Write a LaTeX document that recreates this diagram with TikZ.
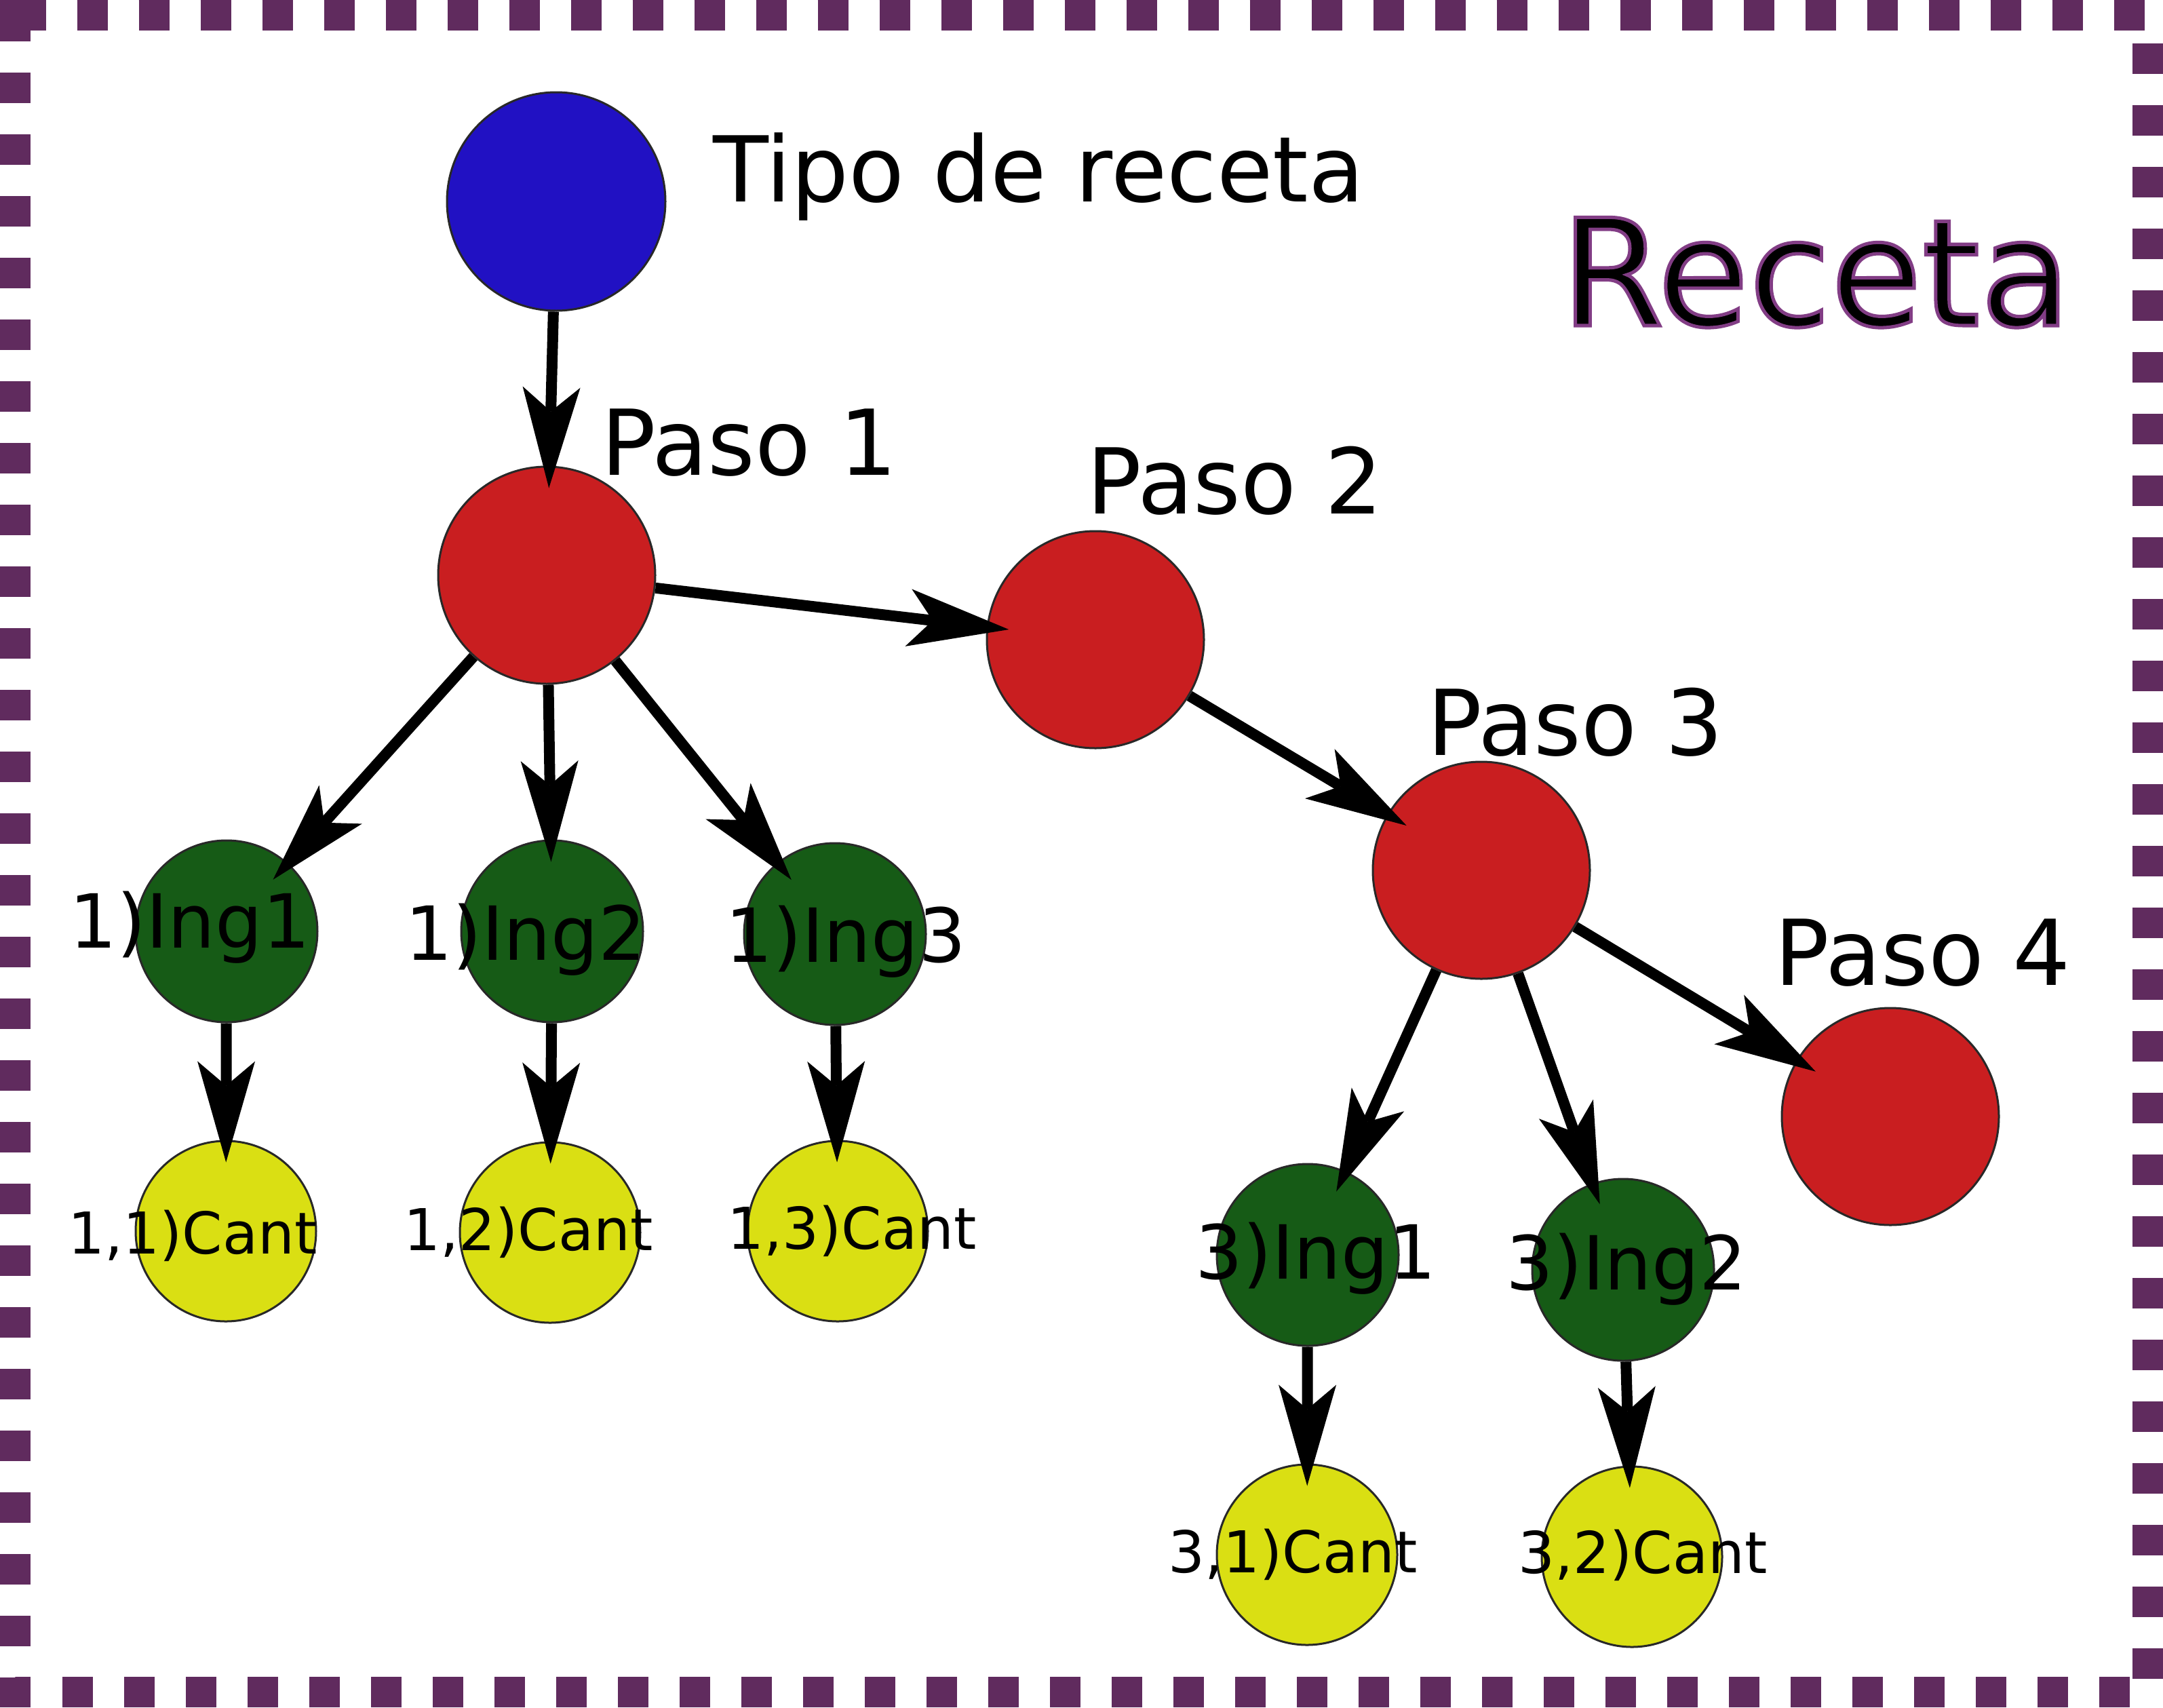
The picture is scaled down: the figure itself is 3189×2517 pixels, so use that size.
\documentclass[tikz,border=0pt]{standalone}
\usepackage{fontspec}
\setmainfont{DejaVu Sans}
\usetikzlibrary{arrows.meta}
\definecolor{bordercol}{RGB}{96,43,94}
\definecolor{tipoblue}{RGB}{33,17,195}
\definecolor{pasored}{RGB}{201,30,32}
\definecolor{inggreen}{RGB}{22,91,22}
\definecolor{cantyellow}{RGB}{218,223,19}
\definecolor{circedge}{RGB}{40,40,40}
\begin{document}
\begin{tikzpicture}[x=1pt,y=-1pt,
  bubble/.style={circle, draw=circedge, line width=3pt, inner sep=0pt},
  tipo/.style={bubble, fill=tipoblue, minimum size=322pt},
  paso/.style={bubble, fill=pasored, minimum size=320pt},
  ing/.style={bubble, fill=inggreen, minimum size=268pt},
  cant/.style={bubble, fill=cantyellow, minimum size=266pt},
  conn/.style={line width=16pt, -{Stealth[length=149pt,width=85pt,inset=36pt,line width=0pt]}, shorten >=-33pt},
  biglabel/.style={font=\fontsize{134}{160}\selectfont, inner sep=0pt, anchor=base west},
  inglabel/.style={font=\fontsize{110}{130}\selectfont, inner sep=0pt, anchor=base},
  cantlabel/.style={font=\fontsize{85}{100}\selectfont, inner sep=0pt, anchor=base},
  receta/.style={font=\fontsize{219}{260}\selectfont, inner sep=0pt, anchor=base west},
]
\useasboundingbox (0,0) rectangle (3189,2517);
\fill[white] (0,0) rectangle (3189,2517);
% frame
\draw[bordercol, line width=45pt, dash pattern=on 45pt off 46pt]
  (22.5,22.5) -- (3166,22.5) -- (3166,2494.5) -- (22.5,2494.5) -- cycle;
\fill[bordercol] (0,0) rectangle (45,52);
\fill[bordercol] (0,0) rectangle (68,45);

% circles
\node[tipo] (tipo) at (820,297) {};
\node[paso] (p1) at (806,848) {};
\node[paso] (p2) at (1615,943) {};
\node[paso] (p3) at (2184,1283) {};
\node[paso] (p4) at (2787,1646) {};
\node[ing] (i11) at (334,1373) {};
\node[ing] (i12) at (814,1373) {};
\node[ing] (i13) at (1231,1377) {};
\node[ing] (i31) at (1928,1850) {};
\node[ing] (i32) at (2393,1872) {};
\node[cant] (c11) at (333,1815) {};
\node[cant] (c12) at (811,1817) {};
\node[cant] (c13) at (1235,1815) {};
\node[cant] (c31) at (1927,2292) {};
\node[cant] (c32) at (2406,2295) {};

% connectors
\draw[conn] (tipo) -- (p1);
\draw[conn] (p1) -- (p2);
\draw[conn] (p2) -- (p3);
\draw[conn] (p3) -- (p4);
\draw[conn] (p1) -- (i11);
\draw[conn] (p1) -- (i12);
\draw[conn] (p1) -- (i13);
\draw[conn] (p3) -- (i31);
\draw[conn] (p3) -- (i32);
\draw[conn] (i11) -- (c11);
\draw[conn] (i12) -- (c12);
\draw[conn] (i13) -- (c13);
\draw[conn] (i31) -- (c31);
\draw[conn] (i32) -- (c32);

% labels
\node[biglabel] (ltipo) at (1051,297) {Tipo de receta};
\node[biglabel] (lp1) at (886,700) {Paso 1};
\node[biglabel] (lp2) at (1602,757) {Paso 2};
\node[biglabel] (lp3) at (2104,1113) {Paso 3};
\node[biglabel] (lp4) at (2616,1452) {Paso 4};

\node[inglabel] (li11) at (280,1397) {1)Ing1};
\node[inglabel] (li12) at (775,1415) {1)Ing2};
\node[inglabel] (li13) at (1247,1418) {1)Ing3};
\node[inglabel] (li31) at (1940,1885) {3)Ing1};
\node[inglabel] (li32) at (2398,1901) {3)Ing2};

\node[cantlabel] (lc11) at (284,1848) {1,1)Cant};
\node[cantlabel] (lc12) at (779,1843) {1,2)Cant};
\node[cantlabel] (lc13) at (1256,1841) {1,3)Cant};
\node[cantlabel] (lc31) at (1906,2318) {3,1)Cant};
\node[cantlabel] (lc32) at (2422,2319) {3,2)Cant};

% title: black fill with purple outline (text render mode 2)
\node[receta, text=black] (receta) at (2301,480)
  {\special{pdf:literal direct 2 Tr 5 w 0.51 0.24 0.52 RG}Receta\special{pdf:literal direct 0 Tr 1 w 0 0 0 RG}};
\end{tikzpicture}
\end{document}
